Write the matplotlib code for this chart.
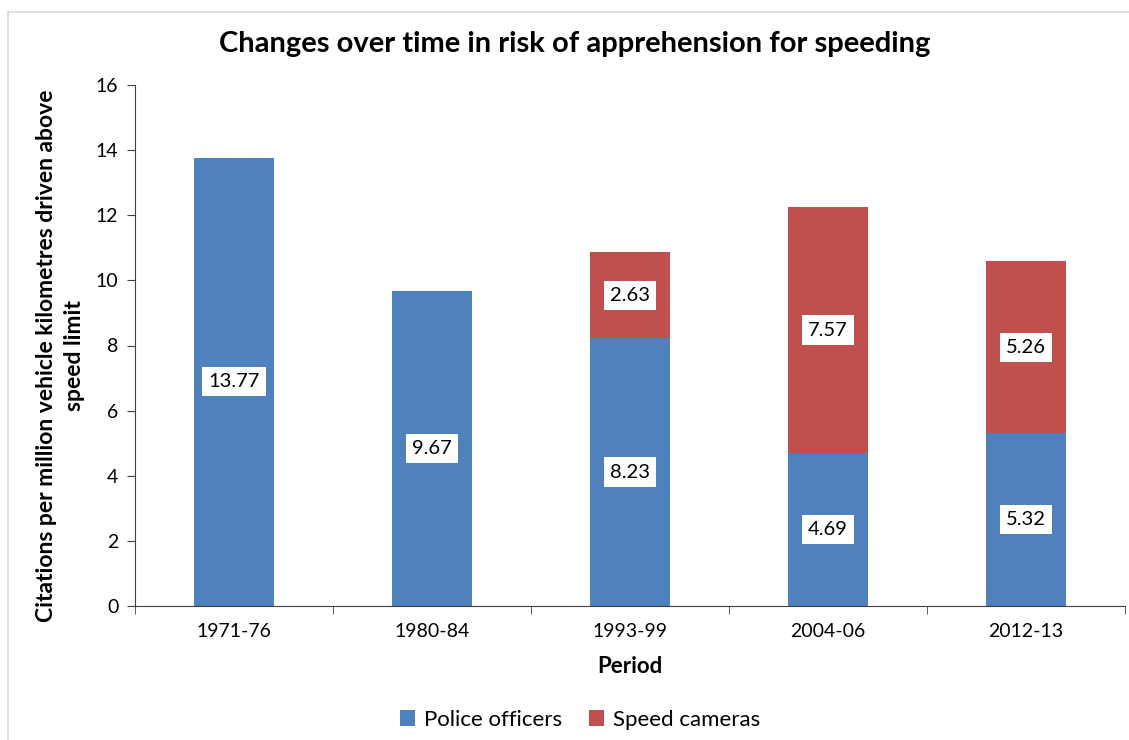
import numpy as np
import matplotlib.pyplot as plt
from matplotlib.lines import Line2D

plt.rcParams['font.family'] = ['Lato', 'DejaVu Sans']

periods = ['1971-76', '1980-84', '1993-99', '2004-06', '2012-13']
police = [13.77, 9.67, 8.23, 4.69, 5.32]
cameras = [0, 0, 2.63, 7.57, 5.26]

blue = '#4F81BD'
red = '#C0504D'

fig = plt.figure(figsize=(11.29, 7.4), dpi=100)
ax = fig.add_axes([135/1129, 1-606/740, 990/1129, 521/740])

x = np.arange(len(periods))
b1 = ax.bar(x, police, width=0.4, color=blue, label='Police officers')
b2 = ax.bar(x, cameras, width=0.4, bottom=police, color=red, label='Speed cameras')

box = dict(boxstyle='square,pad=0.3', fc='white', ec='none')
for i in range(len(periods)):
    ax.text(x[i], police[i]/2, f'{police[i]:.2f}', ha='center', va='center',
            fontsize=14.5, bbox=box)
    if cameras[i] > 0:
        ax.text(x[i], police[i] + cameras[i]/2, f'{cameras[i]:.2f}', ha='center',
                va='center', fontsize=14.5, bbox=box)

ax.set_xlim(-0.5, len(periods)-0.5)
ax.set_ylim(0, 16)
ax.set_yticks(range(0, 17, 2))
ax.set_xticks(x)
ax.set_xticklabels(periods)
ax.set_xticks(np.arange(-0.5, len(periods), 1), minor=True)
ax.tick_params(axis='x', which='major', length=0, pad=12, labelsize=14)
ax.tick_params(axis='x', which='minor', length=6, direction='out', color='#404040')
ax.tick_params(axis='y', length=6, direction='out', labelsize=14, color='#404040', pad=6)
for s in ['top', 'right']:
    ax.spines[s].set_visible(False)
ax.spines['left'].set_color('#404040')
ax.spines['bottom'].set_color('#404040')

ax.set_xlabel('Period', fontsize=16, fontweight='bold', labelpad=12)
ax.set_ylabel('Citations per million vehicle kilometres driven above\nspeed limit',
              fontsize=16.5, fontweight='bold', linespacing=1.4)
ax.yaxis.set_label_coords(-50/990, 0.48)
fig.text(575/1129, 1-44/740, 'Changes over time in risk of apprehension for speeding',
         ha='center', va='center', fontsize=21, fontweight='bold')

fig.legend(handles=[b1, b2], loc='center', bbox_to_anchor=(580/1129, 1-720/740),
           ncol=2, frameon=False, fontsize=16, handlelength=0.7, handleheight=0.7,
           columnspacing=1.2, handletextpad=0.4)

fig.add_artist(Line2D([8/1129, 1], [1-12/740, 1-12/740], color='#D9D9D9', lw=1.2,
                      transform=fig.transFigure))
fig.add_artist(Line2D([8/1129, 8/1129], [0, 1-12/740], color='#D9D9D9', lw=1.2,
                      transform=fig.transFigure))

fig.savefig('out.png', dpi=100)
